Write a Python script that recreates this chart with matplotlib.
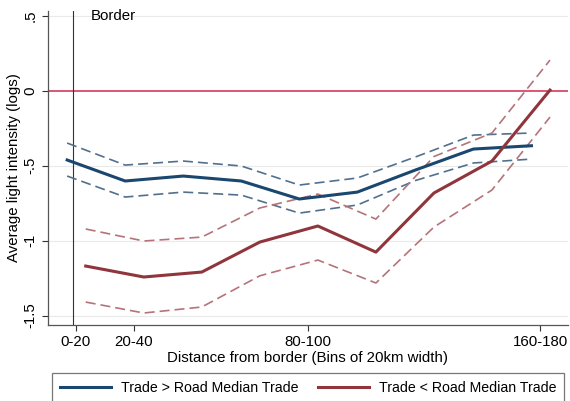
import numpy as np
import matplotlib.pyplot as plt

plt.rcParams['font.family'] = ['Liberation Sans', 'DejaVu Sans']

# bins de 20km (1 = 0-20, ..., 9 = 160-180)
bins = np.arange(1, 10)
tick_pos = [1, 2, 5, 9]
tick_labels = ["0-20", "20-40", "80-100", "160-180"]

# Trade > Road Median Trade
azul = [-0.463, -0.603, -0.57, -0.603, -0.723, -0.677, -0.53, -0.39, -0.368]
azul_sup = [-0.35, -0.497, -0.47, -0.503, -0.63, -0.583, -0.443, -0.297, -0.283]
azul_inf = [-0.57, -0.71, -0.677, -0.697, -0.817, -0.763, -0.6, -0.483, -0.457]

# Trade < Road Median Trade
verm = [-1.17, -1.243, -1.21, -1.01, -0.903, -1.077, -0.683, -0.47, 0.003]
verm_sup = [-0.923, -1.003, -0.977, -0.783, -0.69, -0.857, -0.44, -0.283, 0.203]
verm_inf = [-1.41, -1.483, -1.443, -1.235, -1.13, -1.283, -0.91, -0.663, -0.177]

cor_azul = "#1a476f"
cor_verm = "#90353b"
fs = 10.8

fig = plt.figure(figsize=(5.70, 4.01), dpi=100)
ax = fig.add_axes([0.0842, 0.1895, 0.9123, 0.783])

x_azul = bins - 0.15
x_verm = bins + 0.17

# grelha e linhas de referencia
for yv in [0.5, -0.5, -1, -1.5]:
    ax.axhline(yv, color="#eaeaea", lw=0.8, zorder=0)
ax.axhline(0, color="#d9486a", lw=1.3, zorder=1)
ax.axvline(0.95, color="#333333", lw=0.8, zorder=1)
ax.text(1.26, 0.5, "Border", fontsize=fs, va="center", ha="left")

ax.plot(x_azul, azul_sup, "--", color="#52708c", lw=1.2, dashes=(6, 3))
ax.plot(x_azul, azul_inf, "--", color="#52708c", lw=1.2, dashes=(6, 3))
ax.plot(x_verm, verm_sup, "--", color="#b5737a", lw=1.2, dashes=(6, 3))
ax.plot(x_verm, verm_inf, "--", color="#b5737a", lw=1.2, dashes=(6, 3))
l1, = ax.plot(x_azul, azul, color=cor_azul, lw=2.2, label="Trade > Road Median Trade")
l2, = ax.plot(x_verm, verm, color=cor_verm, lw=2.2, label="Trade < Road Median Trade")

ax.set_xlim(0.52, 9.48)
ax.set_ylim(-1.563, 0.53)
ax.set_xticks(tick_pos)
ax.set_xticklabels(tick_labels, fontsize=fs)
ax.set_yticks([0.5, 0, -0.5, -1, -1.5])
ax.set_yticklabels([".5", "0", "-.5", "-1", "-1.5"], fontsize=fs, rotation=90, va="center")
ax.tick_params(colors="#333333", length=4, width=0.8, labelcolor="black")
for s in ["top", "right"]:
    ax.spines[s].set_visible(False)
for s in ["left", "bottom"]:
    ax.spines[s].set_color("#555555")
    ax.spines[s].set_linewidth(0.9)

ax.set_xlabel("Distance from border (Bins of 20km width)", fontsize=fs, labelpad=1)
ax.set_ylabel("Average light intensity (logs)", fontsize=fs, labelpad=2)

leg = fig.legend(handles=[l1, l2], loc="upper left", bbox_to_anchor=(0.0912, -0.05, 0.898, 0.1198),
                 mode="expand", ncol=2, fontsize=10.2, frameon=True, fancybox=False,
                 edgecolor="#555555", handlelength=3.6, handletextpad=0.7, columnspacing=1.5,
                 borderaxespad=0.0, borderpad=0.55)
leg.get_frame().set_linewidth(0.9)

plt.savefig("out.png", dpi=100)
